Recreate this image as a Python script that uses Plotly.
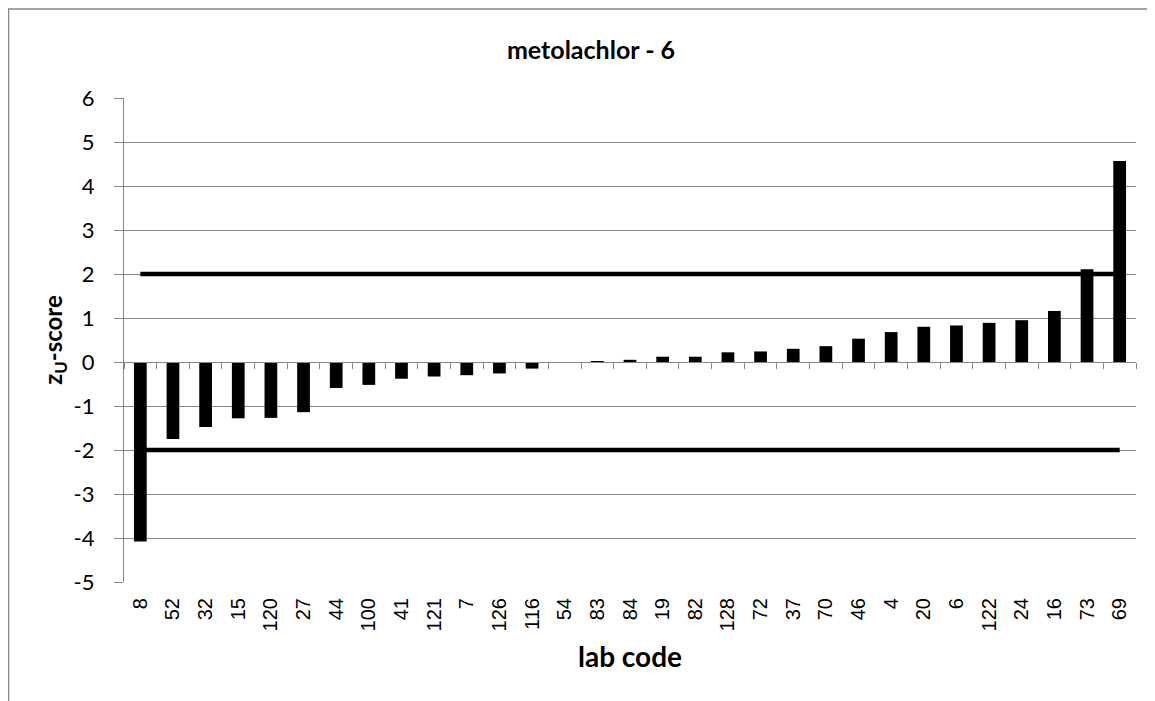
import plotly.graph_objects as go

labs = ["8", "52", "32", "15", "120", "27", "44", "100", "41", "121", "7", "126", "116",
        "54", "83", "84", "19", "82", "128", "72", "37", "70", "46", "4", "20", "6",
        "122", "24", "16", "73", "69"]
z_scores = [-4.08, -1.75, -1.48, -1.28, -1.27, -1.14, -0.59, -0.52, -0.38, -0.33, -0.30,
            -0.26, -0.15, -0.01, 0.01, 0.05, 0.12, 0.12, 0.22, 0.24, 0.30, 0.36, 0.53,
            0.68, 0.80, 0.83, 0.89, 0.95, 1.16, 2.11, 4.57]
upper_limit = [2] * len(labs)
lower_limit = [-2] * len(labs)
y_ticks = [-5, -4, -3, -2, -1, 0, 1, 2, 3, 4, 5, 6]
y_tick_text = ["-5", "-4", "-3", "-2", "-1", "0", "1", "2", "3", "4", "5", "6"]

GRAY = "#868686"
CAL = "Lato, Carlito, Calibri, sans-serif"

W, H = 1147, 693
L, R, T, B = 116, 19, 90, 119
PW = W - L - R
PH = H - T - B

fig = go.Figure()
fig.add_trace(go.Bar(x=labs, y=z_scores, marker=dict(color="black", line=dict(width=0)),
                     showlegend=False, hoverinfo="x+y"))
fig.add_trace(go.Scatter(x=labs, y=upper_limit, mode="lines", xaxis="x2",
                         line=dict(color="black", width=4.5), showlegend=False))
fig.add_trace(go.Scatter(x=labs, y=lower_limit, mode="lines", xaxis="x2",
                         line=dict(color="black", width=4.5), showlegend=False))

ymin, ymax = -5, 6
zero_pos = (0 - ymin) / (ymax - ymin)
n = len(labs)

fig.update_layout(
    width=W, height=H,
    margin=dict(l=L, r=R, t=T, b=B),
    paper_bgcolor="white", plot_bgcolor="white",
    bargap=0.61,
    title=dict(text="<b>metolachlor - 6</b>", x=583 / W, xanchor="center",
               y=1 - 42 / H, yanchor="middle",
               font=dict(family=CAL, size=25, color="black")),
    xaxis=dict(type="category", categoryorder="array", categoryarray=labs,
               range=[-0.5, n - 0.5], showgrid=False, showline=False, zeroline=False,
               ticks="", tickangle=-90, ticklabelstandoff=11,
               tickfont=dict(family="Liberation Sans, Arial, sans-serif", size=20, color="black"),
               title=dict(text="<b>lab code</b>", standoff=17,
                          font=dict(family=CAL, size=28, color="black"))),
    xaxis2=dict(type="category", categoryorder="array", categoryarray=labs,
                range=[-0.5, n - 0.5], overlaying="x", anchor="free", position=zero_pos,
                side="bottom", showgrid=False, zeroline=False, showticklabels=False,
                showline=True, linecolor=GRAY, linewidth=1.3,
                ticks="outside", tickson="boundaries", ticklen=6, tickcolor=GRAY, tickwidth=1.3),
    yaxis=dict(range=[ymin, ymax], tickvals=y_ticks, ticktext=y_tick_text,
               showgrid=True, gridcolor=GRAY, gridwidth=1.3,
               zeroline=False, showline=True, linecolor=GRAY, linewidth=1.3,
               ticks="outside", ticklen=9, tickcolor=GRAY, tickwidth=1.3, ticklabelstandoff=15,
               tickfont=dict(family=CAL, size=22, color="black"),
               title=dict(text="<b>z<sub>U</sub>-score</b>", standoff=4,
                          font=dict(family=CAL, size=24, color="black"))),
)

fig.add_shape(type="rect", xref="paper", yref="paper",
              x0=(0.6 - L) / PW, x1=(W + 30 - L) / PW,
              y0=-(B + 30) / PH, y1=(PH + T - 1) / PH,
              line=dict(color=GRAY, width=1.3), fillcolor="rgba(0,0,0,0)", layer="below")

fig.write_html("out.html")
